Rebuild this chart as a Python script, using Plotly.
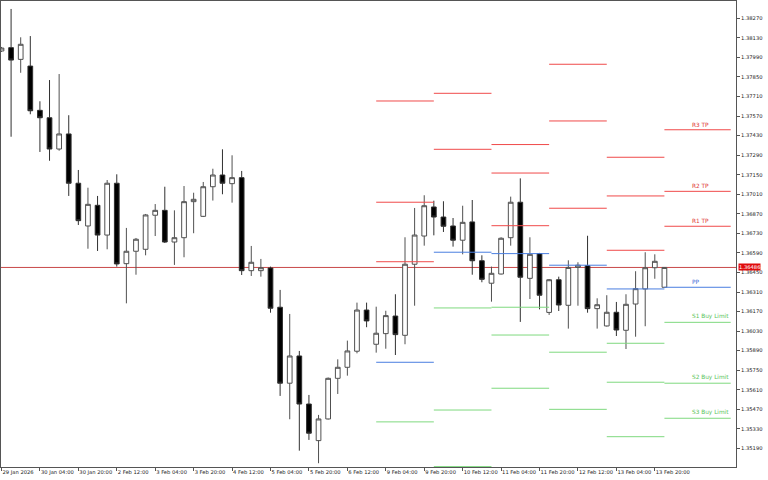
import pandas as pd
import plotly.graph_objects as go

# ---- bar times (H4, weekends skipped) ----
all_times = pd.date_range("2026-01-29 12:00", "2026-02-16 00:00", freq="4h")
times = [t for t in all_times if t.weekday() < 5]

# ---- OHLC ----
opens = [1.38036, 1.38060, 1.37976, 1.37928, 1.37611, 1.37558, 1.37334, 1.37442, 1.37089, 1.36783,
         1.36931, 1.36718, 1.37089, 1.36513, 1.36602, 1.36616, 1.36860, 1.36895, 1.36668, 1.36699,
         1.36957, 1.36852, 1.37064, 1.37148, 1.37086, 1.37129, 1.36463, 1.36463, 1.36482, 1.36201,
         1.35657, 1.35852, 1.35508, 1.35246, 1.35401, 1.35692, 1.35771, 1.35886, 1.36181, 1.35936,
         1.36012, 1.36138, 1.36000, 1.36509, 1.36711, 1.36919, 1.36847, 1.36783, 1.36681, 1.36812,
         1.36534, 1.36373, 1.36439, 1.36699, 1.36953, 1.36408, 1.36585, 1.36164, 1.36398, 1.36215,
         1.36486, 1.36499, 1.36191, 1.36067, 1.36165, 1.36036, 1.36224, 1.36332, 1.36484, 1.36344]
highs = [1.38065, 1.38337, 1.38134, 1.38143, 1.37676, 1.37828, 1.37871, 1.37576, 1.37184, 1.37057,
         1.36998, 1.37112, 1.37153, 1.36769, 1.36697, 1.36869, 1.36940, 1.37064, 1.36895, 1.37069,
         1.37021, 1.37098, 1.37193, 1.37332, 1.37289, 1.37177, 1.36640, 1.36547, 1.36492, 1.36325,
         1.36153, 1.35888, 1.35573, 1.35430, 1.35698, 1.35828, 1.35962, 1.36234, 1.36234, 1.36205,
         1.36176, 1.36294, 1.36702, 1.36912, 1.37003, 1.36964, 1.36960, 1.36840, 1.36928, 1.36969,
         1.36573, 1.36492, 1.36702, 1.36993, 1.37124, 1.36702, 1.36590, 1.36403, 1.36420, 1.36537,
         1.36523, 1.36713, 1.36265, 1.36287, 1.36239, 1.36294, 1.36459, 1.36595, 1.36580, 1.36486]
lows = [1.38029, 1.37422, 1.37880, 1.37583, 1.37313, 1.37250, 1.37322, 1.36998, 1.36790, 1.36620,
        1.36604, 1.36616, 1.36492, 1.36229, 1.36434, 1.36573, 1.36711, 1.36661, 1.36504, 1.36559,
        1.36731, 1.36847, 1.36965, 1.37010, 1.36950, 1.36432, 1.36425, 1.36420, 1.36162, 1.35566,
        1.35399, 1.35174, 1.35251, 1.35084, 1.35397, 1.35580, 1.35711, 1.35871, 1.36058, 1.35876,
        1.35904, 1.35859, 1.35936, 1.36212, 1.36642, 1.36716, 1.36740, 1.36635, 1.36580, 1.36434,
        1.36380, 1.36241, 1.36436, 1.36642, 1.36096, 1.36260, 1.36186, 1.36146, 1.36174, 1.36048,
        1.36212, 1.36162, 1.36048, 1.36063, 1.35995, 1.35902, 1.35990, 1.36065, 1.36405, 1.36344]
closes = [1.38057, 1.37971, 1.38084, 1.37608, 1.37558, 1.37334, 1.37442, 1.37089, 1.36821, 1.36938,
          1.36718, 1.37089, 1.36511, 1.36602, 1.36688, 1.36862, 1.36895, 1.36668, 1.36699, 1.36957,
          1.36974, 1.37064, 1.37148, 1.37089, 1.37129, 1.36463, 1.36523, 1.36484, 1.36194, 1.35657,
          1.35852, 1.35508, 1.35299, 1.35401, 1.35692, 1.35771, 1.35888, 1.36181, 1.36103, 1.36015,
          1.36141, 1.36005, 1.36509, 1.36718, 1.36928, 1.36847, 1.36781, 1.36681, 1.36809, 1.36534,
          1.36401, 1.36444, 1.36695, 1.36953, 1.36416, 1.36580, 1.36287, 1.36398, 1.36217, 1.36486,
          1.36502, 1.36191, 1.36219, 1.36165, 1.36038, 1.36222, 1.36334, 1.36484, 1.36530, 1.36486]

current_price = 1.36486

# ---- daily pivot levels ----
level_days = ["2026-02-09", "2026-02-10", "2026-02-11", "2026-02-12", "2026-02-13", "2026-02-16"]
r3 = [1.37678, 1.38470, 1.37366, 1.37941, 1.37275, 1.37472]
r2 = [1.36953, 1.37733, 1.37162, 1.37535, 1.36998, 1.37031]
r1 = [1.36527, 1.37332, 1.36785, 1.36910, 1.36609, 1.36781]
pp = [1.35807, 1.36595, 1.36585, 1.36502, 1.36332, 1.36344]
s1 = [1.35380, 1.36196, 1.36201, 1.35879, 1.35943, 1.36093]
s2 = [1.34661, 1.35465, 1.36002, 1.35470, 1.35664, 1.35657]
s3 = [1.34234, 1.35060, 1.35621, 1.34846, 1.35274, 1.35406]
level_names = ["R3 TP", "R2 TP", "R1 TP", "PP", "S1 Buy Limit", "S2 Buy Limit", "S3 Buy Limit"]

# ---- styles ----
RED = "#f04a4a"
BLUE = "#4a7ee0"
GREEN = "#7fd97f"
level_series = [(r3, RED), (r2, RED), (r1, RED), (pp, BLUE), (s1, GREEN), (s2, GREEN), (s3, GREEN)]
label_colors = ["#e03a3a", "#e03a3a", "#e03a3a", "#4a6ed8", "#5cc45c", "#5cc45c", "#5cc45c"]

xs = list(range(len(times)))
time_index = pd.DatetimeIndex(times)

# day segments (bar index of day start -> next day start)
starts = [int(time_index.searchsorted(pd.Timestamp(d))) for d in level_days]
proj = 6.9  # last (current) day is projected to the right
ends = starts[1:] + [starts[-1] + proj]

fig = go.Figure()

for vals, col in level_series:
    lx, ly = [], []
    for s, e, v in zip(starts, ends, vals):
        lx += [s, e, None]
        ly += [v, v, None]
    fig.add_trace(go.Scatter(x=lx, y=ly, mode="lines", line=dict(color=col, width=1),
                             hoverinfo="skip", showlegend=False))

fig.add_trace(go.Candlestick(
    x=xs, open=opens, high=highs, low=lows, close=closes,
    increasing=dict(line=dict(color="#505050", width=1), fillcolor="#ffffff"),
    decreasing=dict(line=dict(color="#303030", width=1), fillcolor="#000000"),
    whiskerwidth=0, showlegend=False))

# labels for the current day levels
label_x = starts[-1] + 2.7
for name, vals, col in zip(level_names, [r3, r2, r1, pp, s1, s2, s3], label_colors):
    fig.add_annotation(x=label_x, y=vals[-1], text=name, showarrow=False,
                       xanchor="left", yanchor="bottom", yshift=0,
                       font=dict(family="DejaVu Sans", size=5.8, color=col))

# current price line + label
fig.add_shape(type="line", xref="paper", x0=0, x1=1, y0=current_price, y1=current_price,
              line=dict(color="#c84848", width=1), layer="below")
fig.add_annotation(xref="paper", x=1, y=current_price, text=f"{current_price:.5f}",
                   showarrow=False, xanchor="left", xshift=2, bgcolor="#e00c0c",
                   font=dict(family="DejaVu Sans", size=5.2, color="#ffffff"), borderpad=0)

tick_idx = xs[::4]
tick_txt = [times[i].strftime("%-d %b %Y") if i == 0 else times[i].strftime("%-d %b %H:%M") for i in tick_idx]

fig.update_xaxes(range=[-0.05, 76.45], tickmode="array", tickvals=tick_idx, ticktext=tick_txt,
                 ticks="outside", ticklen=3, tickcolor="#555555", showline=True, linecolor="#555555",
                 linewidth=1, mirror=True, showgrid=False, zeroline=False, tickangle=0,
                 ticklabelposition="outside right", rangeslider_visible=False,
                 tickfont=dict(family="DejaVu Sans", size=5.2, color="#222222"))
fig.update_yaxes(range=[1.35057, 1.38394], side="right", tick0=1.35190, dtick=0.0014,
                 tickformat=".5f", ticks="outside", ticklen=3, tickcolor="#555555",
                 showline=True, linecolor="#555555", linewidth=1, mirror=True,
                 showgrid=False, zeroline=False,
                 tickfont=dict(family="DejaVu Sans", size=5.2, color="#222222"))

fig.update_layout(width=768, height=480, paper_bgcolor="#ffffff", plot_bgcolor="#ffffff",
                  margin=dict(l=1, r=32, t=1, b=13, autoexpand=False),
                  showlegend=False, boxgap=0.3)

fig.write_html("out.html", config={"displayModeBar": False},
               post_script="document.body.style.margin='0';document.body.style.padding='0';")
